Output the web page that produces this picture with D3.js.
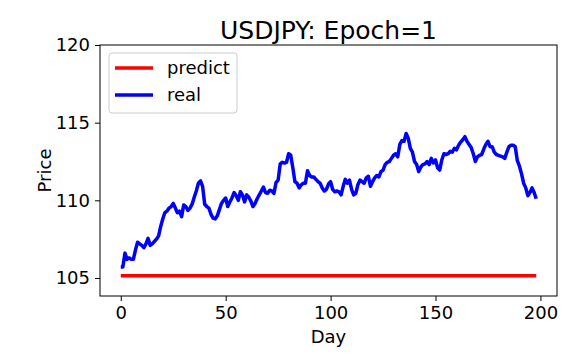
<!DOCTYPE html>
<html>
<head>
<meta charset="utf-8">
<script src="https://cdn.jsdelivr.net/npm/d3@7/dist/d3.min.js"></script>
<style>
  html, body { margin: 0; padding: 0; background: #ffffff; }
  svg { display: block; font-family: "DejaVu Sans", sans-serif; }
</style>
</head>
<body>
<svg id="chart" width="576" height="360"></svg>
<script>
const titleText = "USDJPY: Epoch=1";
const xLabel = "Day";
const yLabel = "Price";
const xTicks = [0, 50, 100, 150, 200];
const yTicks = [105, 110, 115, 120];
const seriesNames = ["predict", "real"];
const seriesColors = ["#ff0000", "#0000ff"];

const realValues = [
  105.7, 105.7, 106.6, 106.2, 106.3, 106.2, 106.2, 106.8, 107.3, 107.2,
  107.1, 106.95, 107.2, 107.55, 107.1, 107.2, 107.35, 107.5, 107.7, 108.3,
  108.8, 109.2, 109.3, 109.5, 109.6, 109.8, 109.5, 109.2, 109.3, 108.95,
  109.7, 109.6, 109.35, 109.5, 109.75, 110.2, 110.6, 111.1, 111.25, 110.9,
  109.75, 109.6, 109.5, 109.1, 108.85, 108.8, 109.0, 109.4, 109.8, 110.0,
  110.15, 109.6, 109.9, 110.15, 110.5, 110.3, 110.0, 110.55, 110.35, 109.9,
  110.35, 110.2, 109.95, 109.6, 109.8, 110.1, 110.35, 110.6, 110.85, 110.5,
  110.45, 110.65, 110.6, 110.45, 111.15, 111.3, 112.35, 112.45, 112.4, 112.45,
  113.0, 112.9, 112.1, 111.2, 111.1, 110.8, 111.0, 111.1, 111.1, 111.9,
  111.6, 111.5, 111.5, 111.35, 111.2, 111.1, 110.8, 110.6, 110.7, 111.05,
  111.2, 110.7, 110.55, 110.6, 110.55, 110.35, 110.9, 111.35, 111.1, 111.3,
  110.7, 110.35, 110.45, 111.0, 111.3, 111.2, 111.1, 111.45, 111.55, 110.9,
  111.2, 111.45, 111.6, 111.5, 111.85, 111.95, 112.3, 112.45, 112.5, 112.7,
  112.9, 113.0, 112.8, 113.6, 113.85, 113.8, 114.3, 114.0, 113.35, 113.1,
  112.5, 112.3, 111.85, 112.15, 112.3, 112.35, 112.5, 112.3, 112.7, 112.4,
  112.6, 112.1, 111.95, 112.6, 113.0, 112.95, 113.0, 113.15, 113.1, 113.35,
  113.25, 113.55, 113.75, 113.9, 114.1, 113.8, 113.6, 113.4, 113.0, 112.5,
  112.8, 112.9, 112.95, 113.3, 113.6, 113.8, 113.45, 113.45, 113.1, 112.95,
  112.9, 112.85, 112.8, 112.7, 113.1, 113.45, 113.55, 113.55, 113.45, 112.55,
  112.2, 111.7, 111.1, 110.8, 110.3, 110.5, 110.8, 110.5, 110.1
];

const predictValues = [
  105.15, 105.15, 105.15, 105.15, 105.15, 105.15, 105.15, 105.15, 105.15, 105.15,
  105.15, 105.15, 105.15, 105.15, 105.15, 105.15, 105.15, 105.15, 105.15, 105.15,
  105.15, 105.15, 105.15, 105.15, 105.15, 105.15, 105.15, 105.15, 105.15, 105.15,
  105.15, 105.15, 105.15, 105.15, 105.15, 105.15, 105.15, 105.15, 105.15, 105.15,
  105.15, 105.15, 105.15, 105.15, 105.15, 105.15, 105.15, 105.15, 105.15, 105.15,
  105.15, 105.15, 105.15, 105.15, 105.15, 105.15, 105.15, 105.15, 105.15, 105.15,
  105.15, 105.15, 105.15, 105.15, 105.15, 105.15, 105.15, 105.15, 105.15, 105.15,
  105.15, 105.15, 105.15, 105.15, 105.15, 105.15, 105.15, 105.15, 105.15, 105.15,
  105.15, 105.15, 105.15, 105.15, 105.15, 105.15, 105.15, 105.15, 105.15, 105.15,
  105.15, 105.15, 105.15, 105.15, 105.15, 105.15, 105.15, 105.15, 105.15, 105.15,
  105.15, 105.15, 105.15, 105.15, 105.15, 105.15, 105.15, 105.15, 105.15, 105.15,
  105.15, 105.15, 105.15, 105.15, 105.15, 105.15, 105.15, 105.15, 105.15, 105.15,
  105.15, 105.15, 105.15, 105.15, 105.15, 105.15, 105.15, 105.15, 105.15, 105.15,
  105.15, 105.15, 105.15, 105.15, 105.15, 105.15, 105.15, 105.15, 105.15, 105.15,
  105.15, 105.15, 105.15, 105.15, 105.15, 105.15, 105.15, 105.15, 105.15, 105.15,
  105.15, 105.15, 105.15, 105.15, 105.15, 105.15, 105.15, 105.15, 105.15, 105.15,
  105.15, 105.15, 105.15, 105.15, 105.15, 105.15, 105.15, 105.15, 105.15, 105.15,
  105.15, 105.15, 105.15, 105.15, 105.15, 105.15, 105.15, 105.15, 105.15, 105.15,
  105.15, 105.15, 105.15, 105.15, 105.15, 105.15, 105.15, 105.15, 105.15, 105.15,
  105.15, 105.15, 105.15, 105.15, 105.15, 105.15, 105.15, 105.15, 105.15
];

const W = 576, H = 360;
const margin = { left: 100, right: 19, top: 45, bottom: 64 };
const plotW = W - margin.left - margin.right;
const plotH = H - margin.top - margin.bottom;

const svg = d3.select("#chart");
svg.append("rect").attr("width", W).attr("height", H).attr("fill", "#ffffff");

const x = d3.scaleLinear().domain([-9.9, 207.9]).range([0, plotW]);
const y = d3.scaleLinear().domain([103.84, 120]).range([plotH, 0]);

const g = svg.append("g").attr("transform", `translate(${margin.left},${margin.top})`);

// Lines
const line = d3.line().x((d, i) => x(i)).y(d => y(d));
const seriesData = [predictValues, realValues];
seriesData.forEach((vals, k) => {
  g.append("path")
    .datum(vals)
    .attr("fill", "none")
    .attr("stroke", seriesColors[k])
    .attr("stroke-width", 3.5)
    .attr("stroke-linejoin", "round")
    .attr("stroke-linecap", "butt")
    .attr("d", line);
});

// Axes
const xAxis = d3.axisBottom(x).tickValues(xTicks).tickSize(5).tickPadding(5).tickFormat(d3.format("d"));
const yAxis = d3.axisLeft(y).tickValues(yTicks).tickSize(5).tickPadding(5).tickFormat(d3.format("d"));

const gx = g.append("g").attr("transform", `translate(0,${plotH})`).call(xAxis);
const gy = g.append("g").call(yAxis);
[gx, gy].forEach(a => {
  a.select(".domain").remove();
  a.selectAll(".tick line").attr("stroke", "#000").attr("stroke-width", 1);
  a.selectAll(".tick text").attr("fill", "#000").style("font-size", "18px").style("font-family", "DejaVu Sans");
});

// Frame
g.append("rect")
  .attr("x", 0).attr("y", 0).attr("width", plotW).attr("height", plotH)
  .attr("fill", "none").attr("stroke", "#000").attr("stroke-width", 1);

// Title
svg.append("text")
  .attr("x", margin.left + plotW / 2).attr("y", 39)
  .attr("text-anchor", "middle")
  .style("font-size", "25px")
  .attr("fill", "#000")
  .text(titleText);

// Axis labels
svg.append("text")
  .attr("x", margin.left + plotW / 2).attr("y", 343)
  .attr("text-anchor", "middle")
  .style("font-size", "18px")
  .attr("fill", "#000")
  .text(xLabel);

svg.append("text")
  .attr("transform", `translate(51,${margin.top + plotH / 2}) rotate(-90)`)
  .attr("text-anchor", "middle")
  .style("font-size", "18px")
  .attr("fill", "#000")
  .text(yLabel);

// Legend
const lg = svg.append("g").attr("transform", "translate(109,53)");
lg.append("rect")
  .attr("x", 0).attr("y", 0).attr("width", 128).attr("height", 60)
  .attr("rx", 3).attr("ry", 3)
  .attr("fill", "#ffffff").attr("fill-opacity", 0.8)
  .attr("stroke", "#cccccc").attr("stroke-width", 1);
seriesNames.forEach((name, k) => {
  const yy = 15 + k * 27;
  lg.append("line")
    .attr("x1", 6).attr("x2", 44).attr("y1", yy).attr("y2", yy)
    .attr("stroke", seriesColors[k]).attr("stroke-width", 3.5);
  lg.append("text")
    .attr("x", 58).attr("y", yy + 6)
    .style("font-size", "18px")
    .attr("fill", "#000")
    .text(name);
});
</script>
</body>
</html>
